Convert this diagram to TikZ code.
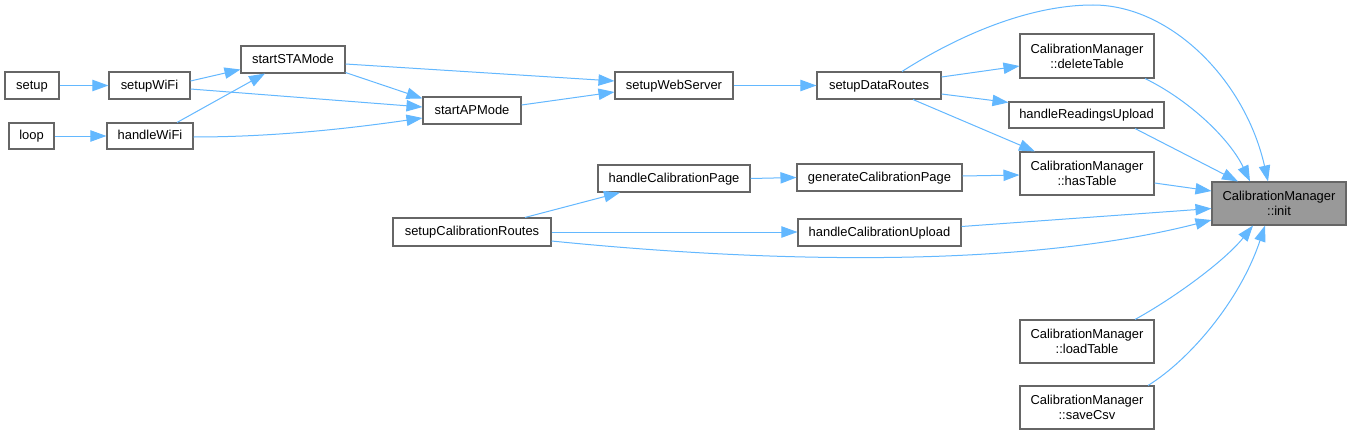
\documentclass[tikz,border=0pt]{standalone}
\usepackage{fontspec}
\setmainfont{Liberation Sans}
\usetikzlibrary{arrows.meta,calc}
\definecolor{edgec}{HTML}{63B8FF}
\definecolor{boxc}{HTML}{666666}
\definecolor{initc}{HTML}{999999}
\begin{document}
\begin{tikzpicture}[x=0.75pt,y=-0.75pt,
  fbase/.style={draw=boxc, line width=0.8pt, fill=white, inner sep=0pt, align=center,
    font=\fontsize{9.7}{11.25}\selectfont},
  fn/.style={fbase, minimum height=20.25pt, text height=7pt, text depth=1.2pt},
  fn2/.style={fbase, minimum height=32.25pt, minimum width=100.5pt},
  e/.style={draw=edgec, line width=0.75pt, -{Triangle[length=12pt,width=8.5pt]}}]
\useasboundingbox[fill=white] (0,0) rectangle (1351,435);

% nodes
\node[fn, minimum width=40.5pt] (setup) at (32,85.5) {setup};
\node[fn, minimum width=60.75pt] (setupWiFi) at (149.5,85.5) {setupWiFi};
\node[fn, minimum width=78pt] (startSTAMode) at (293,59.5) {startSTAMode};
\node[fn, minimum width=33.75pt, minimum height=19.5pt] (loop) at (31.5,136) {loop};
\node[fn, minimum width=64.5pt, minimum height=19.5pt] (handleWiFi) at (150,136) {handleWiFi};
\node[fn, minimum width=73.5pt] (startAPMode) at (472,110.5) {startAPMode};
\node[fn, minimum width=88.5pt] (setupWebServer) at (674,85.5) {setupWebServer};
\node[fn, minimum width=93pt] (setupDataRoutes) at (879,85.5) {setupDataRoutes};
\node[fn2, minimum height=33pt] (deleteTable) at (1087,56) {CalibrationManager\\::deleteTable};
\node[fn, minimum width=116.25pt, minimum height=19.5pt] (handleReadingsUpload) at (1086.5,115) {handleReadingsUpload};
\node[fn2] (hasTable) at (1087,173.5) {CalibrationManager\\::hasTable};
\node[fn, minimum width=123.75pt] (generateCalibrationPage) at (879.5,177.5) {generateCalibrationPage};
\node[fn, minimum width=114pt] (handleCalibrationPage) at (674,178.5) {handleCalibrationPage};
\node[fn, minimum width=118.5pt, minimum height=21pt] (setupCalibrationRoutes) at (472,232) {setupCalibrationRoutes};
\node[fn, minimum width=122.25pt] (handleCalibrationUpload) at (879.5,232.5) {handleCalibrationUpload};
\node[fn2] (loadTable) at (1087,341.5) {CalibrationManager\\::loadTable};
\node[fn2] (saveCsv) at (1087,407.5) {CalibrationManager\\::saveCsv};
\node[fn2, fill=initc] (init) at (1279,203.5) {CalibrationManager\\::init};
\coordinate (peak) at (1093,5);

% edges
\draw[e] (setup.east) -- (setupWiFi.west);
\draw[e] (loop.east) -- (handleWiFi.west);
\draw[e] ($(setupWiFi.east)+(0,-4.5)$) -- ($(startSTAMode.west)+(0,10)$);
\draw[e] ($(setupWiFi.east)+(0,3.5)$) -- ($(startAPMode.west)+(0,-3.5)$);
\draw[e] ($(handleWiFi.north)+(27,0)$) -- ($(startSTAMode.south)+(-28,0)$);
\draw[e] ($(handleWiFi.east)+(0,1)$) .. controls +(87,0) and +(-63,9) .. ($(startAPMode.west)+(0,7.5)$);
\draw[e] ($(startSTAMode.east)+(0,4.5)$) -- ($(setupWebServer.west)+(0,-4.5)$);
\draw[e] ($(startSTAMode.south east)+(0,-1)$) -- ($(startAPMode.north west)+(0,2)$);
\draw[e] ($(startAPMode.east)+(0,-5.5)$) -- ($(setupWebServer.west)+(0,6.5)$);
\draw[e] (setupWebServer.east) -- (setupDataRoutes.west);
\draw[e] ($(setupDataRoutes.east)+(0,-8.5)$) -- ($(deleteTable.west)+(0,10)$);
\draw[e] ($(setupDataRoutes.east)+(0,8.5)$) -- ($(handleReadingsUpload.north west)+(0,1)$);
\draw[e] ($(setupDataRoutes.south)+(34,0)$) -- ($(hasTable.north)+(-52,0)$);
\draw[e] ($(setupDataRoutes.north)+(23,0)$) .. controls +(58,-37) and +(-63,0) .. (peak)
  .. controls +(77,0) and +(-23,-102) .. ($(init.north)+(-11,0)$);
\draw[e] ($(deleteTable.south)+(58,0)$) .. controls +(45,22) and +(-20,-42) .. ($(init.north)+(-29,0)$);
\draw[e] ($(handleReadingsUpload.south)+(48.5,0)$) -- ($(init.north)+(-41,0)$);
\draw[e] ($(hasTable.east)+(0,9.5)$) -- ($(init.west)+(0,-12.5)$);
\draw[e] ($(generateCalibrationPage.east)+(0,-1.5)$) -- ($(hasTable.west)+(0,1.5)$);
\draw[e] (handleCalibrationPage.east) -- (generateCalibrationPage.west);
\draw[e] ($(setupCalibrationRoutes.north)+(53,0)$) -- ($(handleCalibrationPage.south)+(-54,0)$);
\draw[e] (setupCalibrationRoutes.east) -- ($(handleCalibrationUpload.west)+(0,-0.5)$);
\draw[e] ($(setupCalibrationRoutes.east)+(0,9)$) .. controls +(169,17) and +(-212,54) .. ($(init.west)+(0,16.5)$);
\draw[e] ($(handleCalibrationUpload.east)+(0,-6)$) -- ($(init.west)+(0,5)$);
\draw[e] ($(loadTable.north)+(48,0)$) .. controls +(40,-22) and +(-28,35) .. ($(init.south)+(-26,0)$);
\draw[e] ($(saveCsv.north)+(61,0)$) .. controls +(42,-26) and +(-25,75) .. ($(init.south)+(-14,0)$);
\end{tikzpicture}
\end{document}
